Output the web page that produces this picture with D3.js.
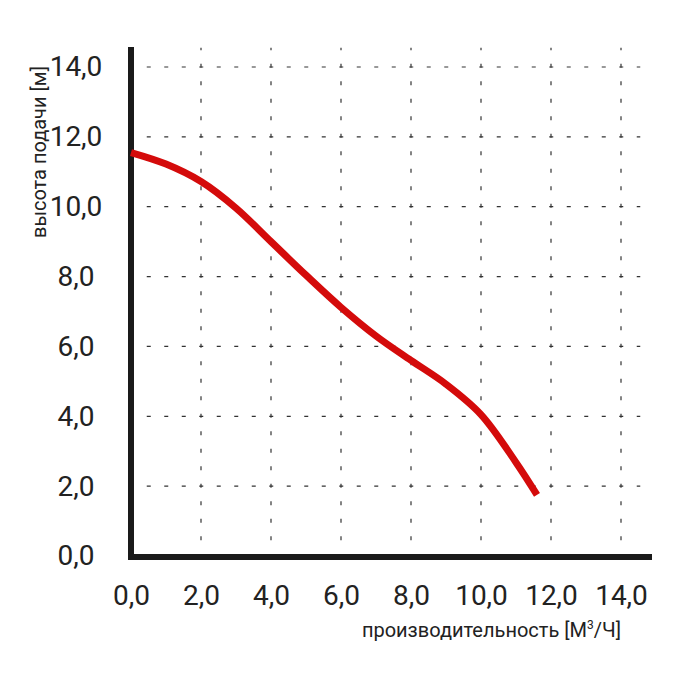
<!DOCTYPE html>
<head>
    <meta charset="utf-8">
    <script src="https://cdn.jsdelivr.net/npm/d3@7"></script>
    <style>
        body { margin: 0; background: #fff; }
        svg { display: block; }
        .tick text { font-family: Roboto, sans-serif; font-size: 28px; fill: #222; }
        .title { font-family: Roboto, sans-serif; fill: #222; }
    </style>
</head>
<body>
    <script>
        // performance curve, m3/h vs head, m
        var flow = [0, 1, 2, 3, 4, 5, 6, 7, 8, 9, 10, 11, 11.6];
        var head = [11.55, 11.22, 10.72, 9.96, 9.0, 8.04, 7.12, 6.3, 5.6, 4.92, 4.05, 2.68, 1.75];
        var xTicks = [0, 2, 4, 6, 8, 10, 12, 14];
        var yTicks = [0, 2, 4, 6, 8, 10, 12, 14];

        var ru = d3.formatLocale({decimal: ",", thousands: " ", grouping: [3], currency: ["", ""]});
        var fmt = ru.format(".1f");

        var svg = d3.select("body").append("svg")
            .attr("width", 700)
            .attr("height", 678);

        var x = d3.scaleLinear().domain([0, 15]).range([131, 656]);
        var y = d3.scaleLinear().domain([0, 14]).range([556, 67]);

        // dotted grid
        var grid = svg.append("g").attr("stroke", "#333").attr("stroke-width", 1.2);
        grid.selectAll(".h").data(yTicks.slice(1)).enter().append("line")
            .attr("x1", x(0.45)).attr("x2", x(14.55))
            .attr("y1", function (d) { return y(d); })
            .attr("y2", function (d) { return y(d); })
            .attr("stroke-dasharray", "4,13.5");
        grid.selectAll(".v").data(xTicks.slice(1)).enter().append("line")
            .attr("y1", y(0.45)).attr("y2", y(14.55))
            .attr("x1", function (d) { return x(d); })
            .attr("x2", function (d) { return x(d); })
            .attr("stroke-dasharray", "4,13.5");

        // axes lines
        svg.append("line")
            .attr("x1", x(0)).attr("x2", x(0))
            .attr("y1", 47).attr("y2", 560)
            .attr("stroke", "#1a1a1a").attr("stroke-width", 6);
        svg.append("line")
            .attr("x1", 128).attr("x2", 652)
            .attr("y1", 557).attr("y2", 557)
            .attr("stroke", "#1a1a1a").attr("stroke-width", 6);

        // tick labels
        svg.append("g")
            .attr("transform", "translate(76,0)")
            .call(d3.axisLeft(y).tickValues(yTicks).tickFormat(fmt).tickSize(0).tickPadding(0))
            .call(function (g) {
                g.select(".domain").remove();
                g.selectAll("text").attr("text-anchor", "middle");
            });
        svg.append("g")
            .attr("transform", "translate(0," + 575 + ")")
            .call(d3.axisBottom(x).tickValues(xTicks).tickFormat(fmt).tickSize(0).tickPadding(10))
            .call(function (g) { g.select(".domain").remove(); });

        // curve
        var line = d3.line()
            .x(function (d, i) { return x(flow[i]); })
            .y(function (d) { return y(d); })
            .curve(d3.curveCatmullRom.alpha(0.5));
        svg.append("path")
            .datum(head)
            .attr("d", line)
            .attr("fill", "none")
            .attr("stroke", "#d40b0b")
            .attr("stroke-width", 7);

        // axis titles
        var xt = svg.append("text").attr("class", "title")
            .attr("x", 621).attr("y", 637)
            .attr("text-anchor", "end")
            .style("font-size", "20px");
        xt.append("tspan").text("производительность [М");
        xt.append("tspan").attr("dy", -8).style("font-size", "12px").text("3");
        xt.append("tspan").attr("dy", 8).text("/Ч]");

        svg.append("text").attr("class", "title")
            .attr("transform", "translate(46,238) rotate(-90)")
            .style("font-size", "20px")
            .text("высота подачи [м]");
    </script>
</body>
